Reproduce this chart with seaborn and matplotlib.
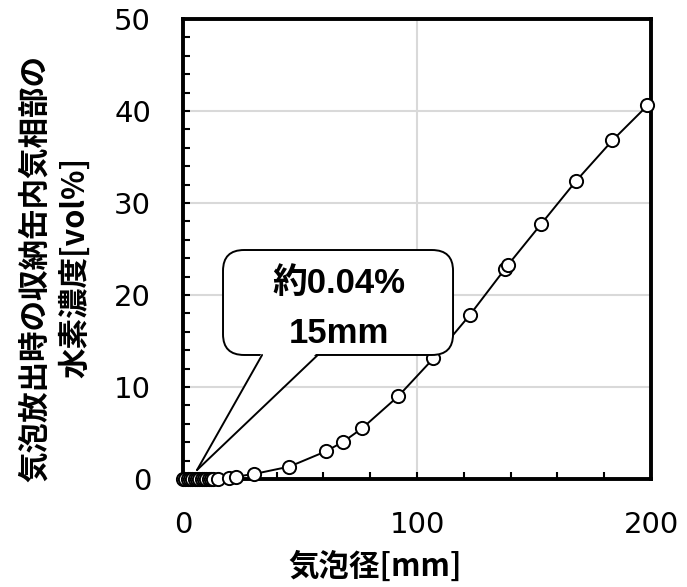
import numpy as np
import pandas as pd
import matplotlib
matplotlib.use("Agg")
import matplotlib.pyplot as plt
from matplotlib.patches import FancyBboxPatch, Polygon
from matplotlib.ticker import MultipleLocator
import seaborn as sns

# Bubble diameter [mm] and hydrogen concentration in the canister gas phase [vol%]
bubble_diameter = [0, 1, 2, 3, 4, 5, 6, 7, 8, 9, 10, 11, 12, 13,
                   15, 19.5, 22.5, 30.5, 45.5, 61, 68.5, 76.5, 92, 107,
                   122.5, 137.5, 139, 153, 168, 183.5, 198.5]
h2_concentration = [0.0, 0.0, 0.0, 0.0, 0.0, 0.001, 0.002, 0.003, 0.005, 0.008,
                    0.012, 0.017, 0.023, 0.03,
                    0.04, 0.1, 0.25, 0.55, 1.35, 3.0, 4.05, 5.5, 9.0, 13.1,
                    17.8, 22.8, 23.3, 27.7, 32.4, 36.8, 40.6]

# Point highlighted by the callout
callout_diameter = 15

x_ticks = [0, 100, 200]
y_ticks = [0, 10, 20, 30, 40, 50]

df = pd.DataFrame({"d": bubble_diameter, "c": h2_concentration})

sns.set_theme(style="white")
plt.rcParams["font.family"] = ["DejaVu Sans", "Noto Sans CJK JP"]

fig = plt.figure(figsize=(6.87, 5.87), dpi=100)
ax = fig.add_axes([183 / 687, 1 - 479 / 587, 468 / 687, 460 / 587])

sns.lineplot(data=df, x="d", y="c", ax=ax, estimator=None, sort=True,
             color="black", linewidth=1.4, marker="o", markersize=9.5,
             markerfacecolor="white", markeredgecolor="black",
             markeredgewidth=1.4, zorder=3)
for ln in ax.lines:
    ln.set_clip_on(False)

ax.set_xlim(0, 200)
ax.set_ylim(0, 50)
ax.set_xticks(x_ticks)
ax.set_yticks(y_ticks)
ax.xaxis.set_minor_locator(MultipleLocator(20))
ax.yaxis.set_minor_locator(MultipleLocator(2))
ax.tick_params(which="both", direction="in", bottom=True, left=True,
               top=False, right=False, color="black")
ax.tick_params(which="major", length=5, width=1.5, labelsize=21, pad=23,
               labelcolor="black")
ax.tick_params(which="minor", length=5, width=1.5)
for lab in ax.get_xticklabels() + ax.get_yticklabels():
    lab.set_family("DejaVu Sans")

ax.grid(True, which="major", color="#d9d9d9", linewidth=1.5, zorder=0)
ax.set_axisbelow(True)
for sp in ax.spines.values():
    sp.set_visible(True)
    sp.set_color("black")
    sp.set_linewidth(2.8)
ax.set_xlabel("")
ax.set_ylabel("")

# Callout box with a wedge pointing to the lower-left corner
bx0, by0, bx1, by1 = 0.0855, 0.2696, 0.577, 0.4978
box = FancyBboxPatch((bx0, by0), bx1 - bx0, by1 - by0,
                     boxstyle="round,pad=0,rounding_size=0.045",
                     transform=ax.transAxes, facecolor="white",
                     edgecolor="black", linewidth=1.4, zorder=5,
                     clip_on=False)
ax.add_patch(box)
base_l, base_r = 0.169, 0.288
tip = (0.030, 0.0196)
wedge = Polygon([(base_l, by0 + 0.006), tip, (base_r, by0 + 0.006)],
                closed=True, transform=ax.transAxes, facecolor="white",
                edgecolor="none", zorder=6, clip_on=False)
ax.add_patch(wedge)
for bx in (base_l, base_r):
    ax.plot([bx, tip[0]], [by0, tip[1]], transform=ax.transAxes,
            color="black", linewidth=1.4, zorder=7, clip_on=False)

idx = bubble_diameter.index(callout_diameter)
callout_font = dict(family=["Liberation Sans", "Noto Sans CJK JP"],
                    fontsize=25, fontweight="bold", color="black",
                    ha="center", va="center", zorder=8)
ax.text(0.333, 0.424, f"約{h2_concentration[idx]:.2f}%",
        transform=ax.transAxes, **callout_font)
ax.text(0.333, 0.317, f"{bubble_diameter[idx]:g}mm",
        transform=ax.transAxes, **callout_font)

# Axis titles
label_font = dict(family=["Noto Sans CJK JP", "DejaVu Sans"], fontsize=22,
                  fontweight="bold", color="black", ha="center", va="center")
fig.text(35 / 687, 1 - 268 / 587, "気泡放出時の収納缶内気相部の",
         rotation=90, **label_font)
fig.text(75 / 687, 1 - 267 / 587, "水素濃度[vol%]", rotation=90, **label_font)
fig.text(375 / 687, 1 - 567 / 587, "気泡径[mm]", **label_font)

fig.savefig("out.png", dpi=100, facecolor="white")
